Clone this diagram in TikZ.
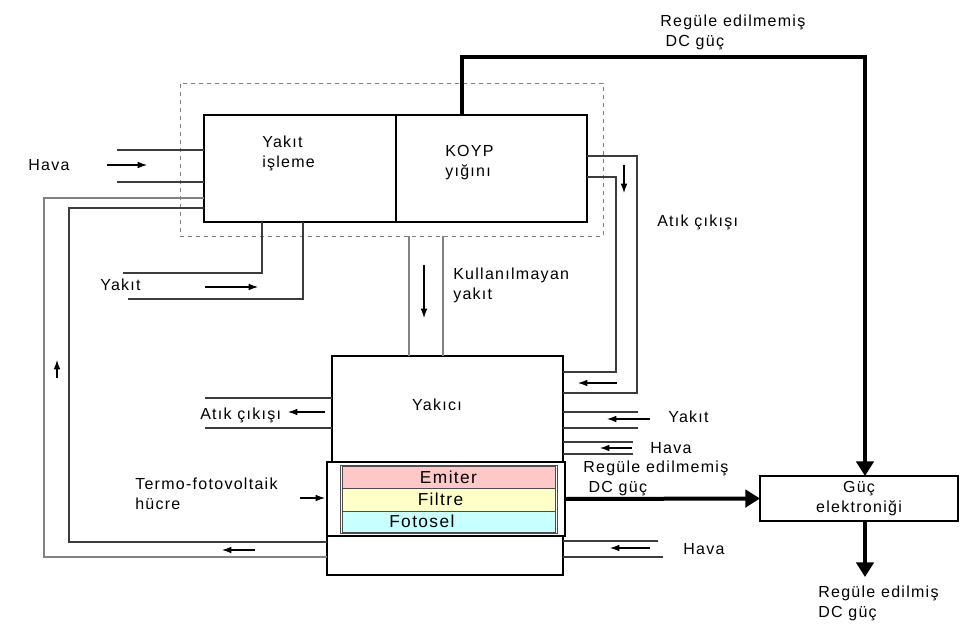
\documentclass[tikz,border=0pt]{standalone}
\usepackage{fontspec}
\setmainfont[LetterSpace=8]{Liberation Sans}
\usetikzlibrary{arrows.meta}
\definecolor{pipegray}{RGB}{60,60,60}
\definecolor{lightpipe}{RGB}{130,130,130}
\definecolor{emitpink}{RGB}{255,200,200}
\definecolor{filtyellow}{RGB}{255,255,200}
\definecolor{fotocyan}{RGB}{200,255,255}
\begin{document}
\begin{tikzpicture}[x=0.75pt,y=-0.75pt,font=\fontsize{12}{15}\selectfont,
 blk/.style={draw,line width=1.1pt,inner sep=0pt,outer sep=0pt},
 pipe/.style={draw=pipegray,line width=0.9pt},
 flow/.style={-{Latex[length=7pt,width=5pt]},line width=0.8pt},
 power/.style={line width=3pt,-{Triangle[length=11pt,width=13pt]}},
 lbl/.style={align=left,inner sep=0pt,anchor=west},
 layer/.style={draw=black!70,line width=0.5pt,inner sep=0pt,outer sep=0pt,minimum width=159.75pt,font=\fontsize{13}{15}\selectfont}]
\useasboundingbox (0,0) rectangle (968,635);
% fuel cell block
\node[draw=gray,dashed,line width=0.6pt,inner sep=0pt,outer sep=0pt,minimum width=317.25pt,minimum height=114.75pt] (sys) at (391.5,159.5) {};
\node[blk,minimum width=144pt,minimum height=80.25pt] (yi) at (300,168.5) {};
\node[blk,minimum width=143.25pt,minimum height=80.25pt] (koyp) at (491.5,168.5) {};
\node[lbl] at (262,153) {Yakıt\\işleme};
\node[lbl] at (445,163) {KOYP\\yığını};
% burner and cell
\node[blk,minimum width=173.25pt,minimum height=79.5pt] (yakici) at (447.5,409) {};
\node at (437,405) {Yakıcı};
\node[blk,minimum width=177pt,minimum height=29.25pt] (alt) at (445,555.5) {};
\node[draw=black!70,line width=0.5pt,inner sep=0pt,outer sep=0pt,fill=white,minimum width=162.75pt,minimum height=51pt] (ic) at (448.5,499) {};
\node[layer,fill=emitpink,minimum height=16.5pt] (emiter) at (448.5,477) {Emiter};
\node[layer,fill=filtyellow,minimum height=17.25pt] (filtre) at (448.5,499.5) {\hspace*{-12pt}Filtre};
\node[layer,fill=fotocyan,minimum height=15.75pt] (fotosel) at (448.5,521.5) {\hspace*{-40pt}Fotosel};
\node[draw,line width=2.2pt,inner sep=0pt,outer sep=0pt,minimum width=178.5pt,minimum height=55.5pt] (tpv) at (446,499) {};
\node[blk,minimum width=148.5pt,minimum height=33.75pt,align=center] (guc) at (859,498.5) {Güç\\elektroniği};
% air and fuel to the processor
\coordinate (havaA) at (117,150); \coordinate (havaB) at (117,182);
\draw[pipe] (havaA) -- (havaA -| yi.west);
\draw[pipe] (havaB) -- (havaB -| yi.west);
\draw[flow] (107,165) -- (147,165);
\node[lbl] at (28,165) {Hava};
\coordinate (fa) at (262,273); \coordinate (fae) at (123,273);
\coordinate (fb) at (303,299); \coordinate (fbe) at (128,299);
\draw[pipe] (fa |- yi.south) -- (fa) -- (fae);
\draw[pipe] (fb |- yi.south) -- (fb) -- (fbe);
\draw[flow] (205,287) -- (258,287);
\node[lbl] at (100,285) {Yakıt};
% recirculation loop
\coordinate (ra) at (44,198); \coordinate (rb) at (44,557);
\coordinate (rc) at (69,208); \coordinate (rd) at (69,542);
\draw[pipe,draw=lightpipe] (ra -| yi.west) -- (ra) -- (rb) -- (rb -| alt.west);
\draw[pipe] (rc -| yi.west) -- (rc) -- (rd) -- (rd -| alt.west);
\draw[flow] (57,378) -- (57,360);
\draw[flow] (255,550) -- (222,550);
% unused fuel
\coordinate (ua) at (409,300); \coordinate (ub) at (443,300);
\draw[pipe,draw=lightpipe] (ua |- sys.south) -- (ua |- yakici.north);
\draw[pipe,draw=lightpipe] (ub |- sys.south) -- (ub |- yakici.north);
\draw[flow] (424,265) -- (424,318);
\node[lbl] at (453,285) {Kullanılmayan\\yakıt};
% stack exhaust
\coordinate (oa) at (637,156); \coordinate (ob) at (637,393);
\coordinate (ia) at (616,177); \coordinate (ib) at (616,372);
\draw[pipe] (oa -| koyp.east) -- (oa) -- (ob) -- (ob -| yakici.east);
\draw[pipe] (ia -| koyp.east) -- (ia) -- (ib) -- (ib -| yakici.east);
\draw[flow] (624,165) -- (624,193);
\draw[flow] (617,383) -- (578,383);
\node[lbl] at (657,222) {Atık çıkışı};
% burner inlets and outlet
\coordinate (ya) at (638,412); \coordinate (yb) at (638,428);
\coordinate (ha) at (633,442); \coordinate (hb) at (633,454);
\draw[pipe] (ya) -- (ya -| yakici.east);
\draw[pipe] (yb) -- (yb -| yakici.east);
\draw[pipe] (ha) -- (ha -| yakici.east);
\draw[pipe] (hb) -- (hb -| yakici.east);
\draw[flow] (650,419) -- (607,419);
\draw[flow] (632,448) -- (600,448);
\node[lbl] at (668,417) {Yakıt};
\node[lbl] at (650,448) {Hava};
\coordinate (ea) at (205,398); \coordinate (eb) at (205,428);
\draw[pipe] (ea) -- (ea -| yakici.west);
\draw[pipe] (eb) -- (eb -| yakici.west);
\draw[flow] (325,412) -- (288,412);
\node[lbl] at (200,415) {Atık çıkışı};
\coordinate (hc) at (658,541); \coordinate (hd) at (663,557);
\draw[pipe] (hc) -- (hc -| alt.east);
\draw[pipe] (hd) -- (hd -| alt.east);
\draw[flow] (650,548) -- (610,548);
\node[lbl] at (683,549) {Hava};
\draw[flow] (300,498) -- (325,498);
\node[lbl] at (135,494) {Termo-fotovoltaik\\hücre};
% electric power
\coordinate (dca) at (462,57); \coordinate (dcb) at (865,57);
\draw[power] (dca |- koyp.north) -- (dca) -- (dcb) -- (dcb |- guc.north);
\node[lbl] at (660,32) {Regüle edilmemiş\\\hspace{4pt}DC güç};
\draw[power] (tpv.east) -- (guc.west);
\node[lbl] at (583,478) {Regüle edilmemiş\\\hspace{4pt}DC güç};
\coordinate (out) at (865,577);
\draw[power] (dcb |- guc.south) -- (out);
\node[lbl] at (818,603) {Regüle edilmiş\\DC güç};
\end{tikzpicture}
\end{document}
